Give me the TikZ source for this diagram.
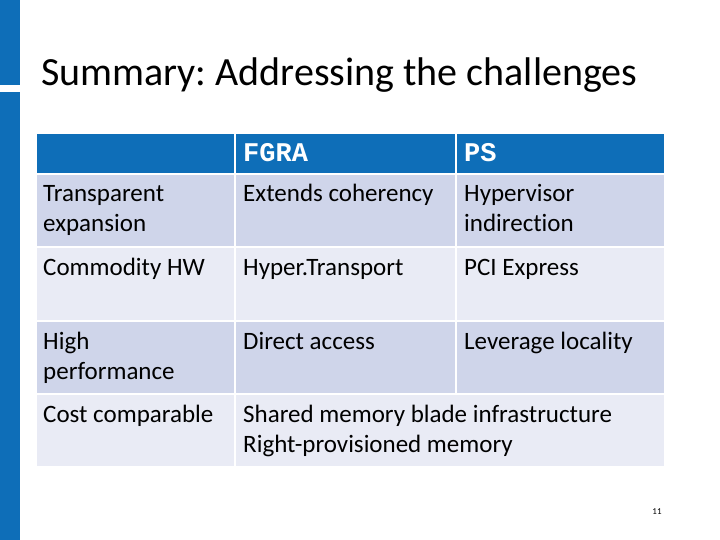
\documentclass[tikz,border=0pt]{standalone}
\usepackage{fontspec}
\setmainfont{Carlito}[Ligatures=NoCommon]
\newfontfamily\monof{Liberation Mono}
\definecolor{hdr}{RGB}{14,110,184}
\definecolor{rowa}{RGB}{207,213,234}
\definecolor{rowb}{RGB}{233,235,245}
\frenchspacing
\begin{document}
\begin{tikzpicture}[x=1pt,y=-1pt,
  cell/.style={draw=white,line width=2pt},
  txt/.style={anchor=base west,align=left,font=\fontsize{25}{30}\selectfont,inner sep=0pt},
  hd/.style={anchor=base west,font=\monof\bfseries\fontsize{27}{30}\selectfont,text=white,inner sep=0pt}]
\useasboundingbox (0,0) rectangle (720,540);
\fill[hdr] (0,0) rectangle (20,85);
\fill[hdr] (0,92) rectangle (20,540);
\node[anchor=base west,inner sep=0pt,font=\fontsize{40}{44}\selectfont] (title) at (41,86) {Summary: Addressing the challenges};
\filldraw[cell,fill=hdr] (36,133) rectangle (235,174);
\filldraw[cell,fill=hdr] (235,133) rectangle (456,174);
\filldraw[cell,fill=hdr] (456,133) rectangle (665,174);
\filldraw[cell,fill=rowa] (36,174) rectangle (235,247);
\filldraw[cell,fill=rowa] (235,174) rectangle (456,247);
\filldraw[cell,fill=rowa] (456,174) rectangle (665,247);
\filldraw[cell,fill=rowb] (36,247) rectangle (235,321);
\filldraw[cell,fill=rowb] (235,247) rectangle (456,321);
\filldraw[cell,fill=rowb] (456,247) rectangle (665,321);
\filldraw[cell,fill=rowa] (36,321) rectangle (235,394);
\filldraw[cell,fill=rowa] (235,321) rectangle (456,394);
\filldraw[cell,fill=rowa] (456,321) rectangle (665,394);
\filldraw[cell,fill=rowb] (36,394) rectangle (235,467);
\filldraw[cell,fill=rowb] (235,394) rectangle (665,467);
\node[hd] (h1) at (243,162) {FGRA};
\node[hd] (h2) at (464,162) {PS};
\node[txt] (a1) at (43,232) {Transparent\\expansion};
\node[txt] (b1) at (243,202) {Extends coherency};
\node[txt] (c1) at (464,232) {Hypervisor\\indirection};
\node[txt] (a2) at (43,275) {Commodity HW};
\node[txt] (b2) at (243,275) {Hyper.Transport};
\node[txt] (c2) at (464,275) {PCI Express};
\node[txt] (a3) at (43,379) {High\\performance};
\node[txt] (b3) at (243,349) {Direct access};
\node[txt] (c3) at (464,349) {Leverage locality};
\node[txt] (a4) at (43,422) {Cost comparable};
\node[txt] (b4) at (243,452) {Shared memory blade infrastructure\\Right-provisioned memory};
\node[font=\fontsize{9}{10}\selectfont,inner sep=0pt] (pg) at (657,512) {11};
\end{tikzpicture}
\end{document}
